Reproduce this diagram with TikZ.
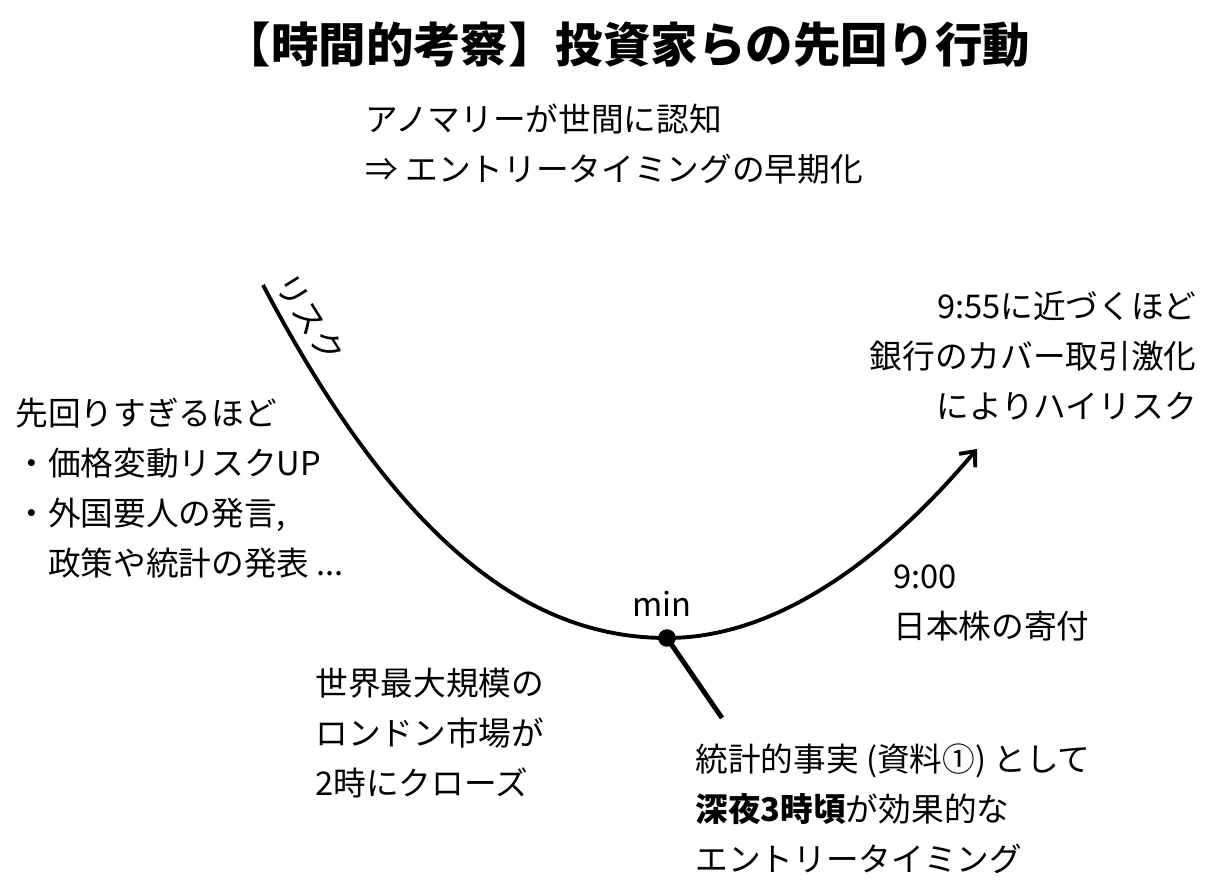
\documentclass[tikz,border=0pt]{standalone}
\usepackage{fontspec}
\setmainfont{Noto Sans CJK JP}
\usetikzlibrary{arrows.meta}

\begin{document}
\begin{tikzpicture}[
  x=0.02cm, y=-0.02cm,
  lbl/.style   = {font=\fontsize{18.6}{28.4}\selectfont, inner sep=0pt},
  ttl/.style   = {font=\fontsize{27}{30}\selectfont\bfseries, inner sep=0pt},
  curve/.style = {line width=2.2pt, -{Straight Barb[length=7pt, width=12pt]}},
  tick/.style  = {line width=2.8pt}
]
\useasboundingbox (0,0) rectangle (1209,884);

%% ---- title and the note above the curve ------------------------------
\node[ttl] (title) at (627,45) {【時間的考察】投資家らの先回り行動};

\node[lbl, anchor=west, align=left] (notice) at (365,144)
  {アノマリーが世間に認知\\
   ⇒ エントリータイミングの早期化};

%% ---- the risk curve, lowest point marked -----------------------------
\coordinate (rstart) at (263,285);
\coordinate (rend)   at (977,449);
\node[circle, fill, inner sep=0pt, minimum size=10pt] (mindot) at (667,638) {};
\coordinate (tickend) at (722,718);

\draw[curve] (rstart) .. controls (400,545) and (530,638) .. (mindot.center)
  .. controls (790,638) and (900,540) .. (rend);
\draw[tick] (mindot.center) -- (tickend);

\node[lbl, rotate=-58] (risk) at (310,318) {リスク};
\node[lbl] (minlbl) at (662,604) {min};

%% ---- notes round the curve -------------------------------------------
\node[lbl, anchor=west, align=left] (early) at (15,488)
  {先回りすぎるほど\\
   ・価格変動リスクUP\\
   ・外国要人の発言,\\
   　政策や統計の発表 ...};

\node[lbl, anchor=east, align=right] (late) at (1197,356)
  {9:55に近づくほど\\
   銀行のカバー取引激化\\
   によりハイリスク};

\node[lbl, anchor=west, align=left] (open) at (893,603)
  {9:00\\
   日本株の寄付};

\node[lbl, anchor=west, align=left] (london) at (315,733)
  {世界最大規模の\\
   ロンドン市場が\\
   2時にクローズ};

\node[lbl, anchor=west, align=left] (fact) at (695,809)
  {統計的事実 (資料①) として\\
   \textbf{深夜3時頃}が効果的な\\
   エントリータイミング};

\end{tikzpicture}
\end{document}
